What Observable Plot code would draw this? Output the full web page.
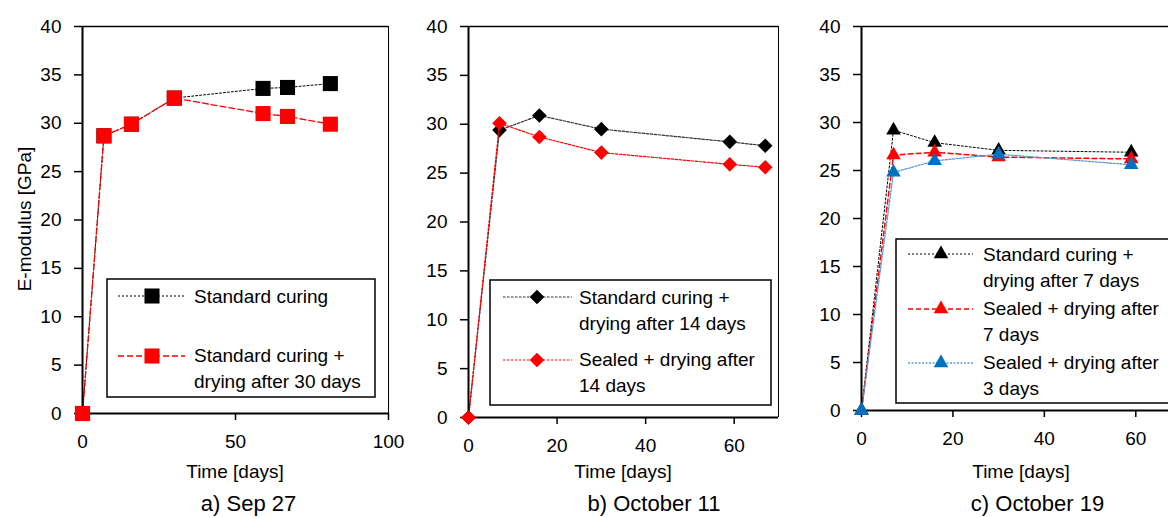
<!DOCTYPE html>
<html><head><meta charset="utf-8">
<script src="https://cdn.jsdelivr.net/npm/d3@7"></script>
<script src="https://cdn.jsdelivr.net/npm/@observablehq/plot@0.6"></script>
<style>
html,body{margin:0;padding:0;background:#fff;overflow:hidden;}
#root{position:relative;width:1168px;height:517px;overflow:hidden;font-family:Arial,"Liberation Sans",sans-serif;}
#root svg{position:absolute;top:0;}
</style></head><body><div id="root"></div>
<script>
// ---- data ----
const yTicks = [0, 5, 10, 15, 20, 25, 30, 35, 40];

const aTime = [0, 7, 16, 30, 59, 67, 81];
const aStandard = [0, 28.7, 29.9, 32.6, 33.6, 33.7, 34.1];
const aDry30 = [0, 28.7, 29.9, 32.6, 31.0, 30.7, 29.9];
const aXTicks = [0, 50, 100];

const bTime = [0, 7, 16, 30, 59, 67];
const bStdDry14 = [0, 29.4, 30.9, 29.5, 28.2, 27.8];
const bSealDry14 = [0, 30.1, 28.7, 27.1, 25.9, 25.6];
const bXTicks = [0, 20, 40, 60];

const cTime = [0, 7, 16, 30, 59];
const cStdDry7 = [0, 29.2, 27.9, 27.1, 26.9];
const cSealDry7 = [0, 26.6, 26.9, 26.4, 26.2];
const cSealDry3 = [0, 24.8, 26.0, 26.7, 25.6];
const cXTicks = [0, 20, 40, 60];

const captions = ["a) Sep 27", "b) October 11", "c) October 19"];
const xTitle = "Time [days]";
const yTitle = "E-modulus [GPa]";

// ---- styles ----
const S = {
  aStd:  {color: "#000", line: "#000", dash: "2,2", lw: 1, symbol: "square", r: 8.5},
  aDry:  {color: "#ff0000", line: "#ff0000", dash: "6,3", lw: 1.3, symbol: "square", r: 8.5},
  bStd:  {color: "#000", line: "#333", dash: "2.5,1.5", lw: 1.2, symbol: "diamond2", r: 6.6},
  bSeal: {color: "#ff0000", line: "#ff0000", dash: "2.5,1.5", lw: 1.2, symbol: "diamond2", r: 6.6},
  cStd:  {color: "#000", line: "#000", dash: "2,2", lw: 1, symbol: "triangle", r: 5.4},
  cS7:   {color: "#ff0000", line: "#ff0000", dash: "5,3", lw: 1.5, symbol: "triangle", r: 5.4},
  cS3:   {color: "#0070c0", line: "#5b9bd5", dash: "2,1.5", lw: 1.3, symbol: "triangle", r: 5.4}
};

const panels = [
  {left: 0, width: 400, ml: 82, mr: 12, bottom: 413, xDomain: [0, 100], xTicks: aXTicks,
   series: [{t: aTime, v: aStandard, s: S.aStd}, {t: aTime, v: aDry30, s: S.aDry}]},
  {left: 400, width: 390, ml: 68, mr: 12, bottom: 417, xDomain: [0, 70], xTicks: bXTicks,
   series: [{t: bTime, v: bStdDry14, s: S.bStd}, {t: bTime, v: bSealDry14, s: S.bSeal}]},
  {left: 790, width: 400, ml: 71, mr: 9, bottom: 410, xDomain: [0, 70], xTicks: cXTicks,
   series: [{t: cTime, v: cStdDry7, s: S.cStd}, {t: cTime, v: cSealDry7, s: S.cS7}, {t: cTime, v: cSealDry3, s: S.cS3}]}
];

const root = document.getElementById("root");

for (const p of panels) {
  const marks = [];
  for (const sr of p.series) {
    const data = sr.t.map((t, i) => ({t, v: sr.v[i]}));
    marks.push(Plot.line(data, {x: "t", y: "v", stroke: sr.s.line, strokeWidth: sr.s.lw, strokeDasharray: sr.s.dash}));
    marks.push(Plot.dot(data, {x: "t", y: "v", symbol: () => sr.s.symbol, r: sr.s.r, fill: sr.s.color, stroke: "none"}));
  }
  const chart = Plot.plot({
    width: p.width, height: 517,
    marginTop: 26, marginBottom: 517 - p.bottom, marginLeft: p.ml, marginRight: p.mr,
    x: {domain: p.xDomain},
    y: {domain: [0, 40]},
    symbol: {type: "identity"},
    style: {background: "transparent", fontFamily: 'Arial, "Liberation Sans", sans-serif', fontSize: "19px", color: "#000", overflow: "visible", maxWidth: "none"},
    marks: [
      Plot.ruleY([40], {stroke: "#000", strokeWidth: 1.5}),
      Plot.ruleX([p.xDomain[1]], {stroke: "#000", strokeWidth: 1}),
      Plot.axisY({ticks: yTicks, tickSize: 8, tickPadding: 13, label: null, strokeWidth: 1.5, tickFormat: d => String(d)}),
      Plot.axisX({ticks: p.xTicks, tickSize: 7, tickPadding: 14, label: null, strokeWidth: 1.5, tickFormat: d => String(d)}),
      ...marks,
      Plot.ruleX([0], {stroke: "#000", strokeWidth: 2}),
      Plot.ruleY([0], {stroke: "#000", strokeWidth: 2}),
      // redraw the top series marker at the origin above the axis lines
      ...p.series.slice(-1).map(sr => Plot.dot([{t: sr.t[0], v: sr.v[0]}], {x: "t", y: "v", symbol: () => sr.s.symbol, r: sr.s.r, fill: sr.s.color, stroke: "none"}))
    ]
  });
  chart.style.left = p.left + "px";
  root.appendChild(chart);
}

// ---- overlay: titles, captions, legends ----
const ov = d3.select(root).append("svg")
  .attr("width", 1168).attr("height", 517)
  .style("left", "0px")
  .attr("font-family", 'Arial, "Liberation Sans", sans-serif')
  .attr("fill", "#000");

ov.append("text").attr("transform", "translate(31,219) rotate(-90)")
  .attr("text-anchor", "middle").attr("font-size", 19).text(yTitle);

[[235, 478], [623, 478], [1021, 478]].forEach(([x, y]) =>
  ov.append("text").attr("x", x).attr("y", y).attr("text-anchor", "middle").attr("font-size", 19).text(xTitle));

[[248.5, 511], [654, 511], [1037.5, 511]].forEach(([x, y], i) =>
  ov.append("text").attr("x", x).attr("y", y).attr("text-anchor", "middle").attr("font-size", 22).text(captions[i]));

const legends = [
  {box: [107, 279, 268, 118], x1: 118, x2: 185, xm: 152, tx: 194,
   entries: [
     {s: S.aStd, sy: 296, lines: [["Standard curing", 303]]},
     {s: S.aDry, sy: 356, lines: [["Standard curing +", 362], ["drying after 30 days", 388]]}
   ]},
  {box: [490, 280, 281, 125], x1: 503, x2: 572, xm: 537, tx: 579,
   entries: [
     {s: S.bStd, sy: 297, lines: [["Standard curing +", 304], ["drying after 14 days", 330]]},
     {s: S.bSeal, sy: 360, lines: [["Sealed + drying after", 366], ["14 days", 392]]}
   ]},
  {box: [896, 239, 300, 164], x1: 908, x2: 973, xm: 941, tx: 983,
   entries: [
     {s: S.cStd, sy: 254, lines: [["Standard curing +", 260.5], ["drying after 7 days", 287]]},
     {s: S.cS7, sy: 309, lines: [["Sealed + drying after", 315], ["7 days", 341]]},
     {s: S.cS3, sy: 363, lines: [["Sealed + drying after", 369], ["3 days", 395]]}
   ]}
];
const symMap = {square: d3.symbolSquare, diamond2: d3.symbolDiamond2, triangle: d3.symbolTriangle};
for (const L of legends) {
  const [bx, by, bw, bh] = L.box;
  ov.append("rect").attr("x", bx).attr("y", by).attr("width", bw).attr("height", bh)
    .attr("fill", "#fff").attr("stroke", "#000").attr("stroke-width", 1.5);
  for (const e of L.entries) {
    ov.append("line").attr("x1", L.x1).attr("x2", L.x2).attr("y1", e.sy).attr("y2", e.sy)
      .attr("stroke", e.s.line).attr("stroke-width", e.s.lw).attr("stroke-dasharray", e.s.dash);
    ov.append("path").attr("transform", `translate(${L.xm},${e.sy})`)
      .attr("d", d3.symbol(symMap[e.s.symbol], Math.PI * e.s.r * e.s.r)())
      .attr("fill", e.s.color);
    for (const [t, y] of e.lines) {
      ov.append("text").attr("x", L.tx).attr("y", y).attr("font-size", 19).text(t);
    }
  }
}
</script></body></html>
